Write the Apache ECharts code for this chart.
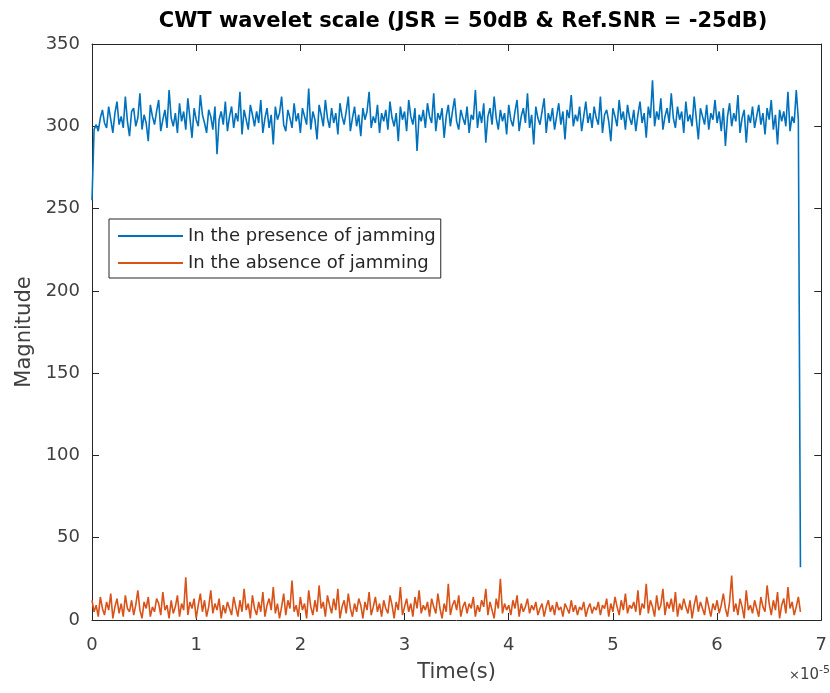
<!DOCTYPE html>
<html><head><meta charset="utf-8">
<script src="https://cdn.jsdelivr.net/npm/echarts@6/dist/echarts.min.js"></script>
<style>html,body{margin:0;padding:0;background:#fff}#c{width:830px;height:693px}</style>
</head><body><div id="c"></div>
<script>
// time grid: samples every 0.02 (units of 1e-5 s), starting at 0
const timeStep = 0.02;
const xTicks = [0,1,2,3,4,5,6,7];
const yTicks = [0,50,100,150,200,250,300,350];
const seriesNames = ['In the presence of jamming','In the absence of jamming'];
const jammed = [
255,298,301,297,305,310,302,299,312,304,296,308,315,301,306,299,318,303,294,309,
311,300,305,320,298,307,302,291,313,306,301,309,316,297,304,310,299,322,305,300,
308,296,314,303,309,298,317,305,293,311,304,300,319,307,302,296,310,306,298,312,
283,304,309,301,315,297,306,312,299,308,303,321,295,310,304,298,313,307,300,309,
302,316,296,305,311,299,307,289,312,304,308,318,301,297,310,305,299,314,303,308,
296,311,306,301,323,298,309,304,292,313,307,300,316,305,299,311,302,308,295,314,
306,301,309,318,297,305,312,300,307,294,311,304,309,321,299,306,302,313,296,308,
303,310,298,315,305,300,308,291,312,304,309,297,316,306,301,311,285,307,303,310,
299,314,306,302,320,297,308,304,311,293,306,313,300,309,317,303,298,310,305,301,
312,296,307,304,322,299,309,302,314,290,306,311,301,318,305,298,310,303,308,295,
313,304,300,309,316,297,306,311,302,320,299,307,289,312,305,301,309,317,296,308,
303,311,298,306,314,301,309,292,310,305,319,300,307,303,312,297,306,315,302,308,
299,312,305,301,318,296,307,310,303,291,311,306,300,316,304,309,298,313,305,301,
310,297,307,315,302,308,293,312,305,328,300,309,304,317,298,306,311,302,320,305,
299,312,304,309,296,315,303,307,300,318,305,292,311,306,301,313,298,308,304,316,
302,309,297,311,288,306,314,300,308,303,319,296,305,310,290,307,302,312,299,306,
313,301,308,295,311,304,316,298,307,289,310,303,309,300,321,297,306,302,322,304,
32];
const clean = [
12,5,9,2,14,7,3,11,6,16,1,8,13,4,10,2,15,7,5,12,
3,9,18,6,1,11,7,14,2,8,5,13,10,3,17,6,9,1,12,4,
8,15,2,10,6,26,3,11,7,13,1,9,16,5,12,2,8,18,4,10,
6,13,1,9,4,11,7,3,14,8,2,12,5,19,6,10,1,15,7,3,
11,5,17,2,9,13,6,20,4,10,1,8,16,3,12,7,24,5,9,2,
14,6,10,1,18,8,3,12,5,21,7,11,2,15,9,4,13,6,19,1,
8,12,4,16,7,2,10,5,13,9,1,11,6,17,3,8,14,5,10,2,
12,7,4,15,9,1,11,6,20,3,8,13,5,10,2,14,7,18,4,9,
6,11,2,13,8,4,16,7,1,10,5,22,3,9,12,6,15,2,8,11,
4,10,7,14,2,9,5,12,8,19,3,11,6,1,13,7,25,4,10,6,
9,3,12,7,15,2,10,5,8,13,4,9,6,11,3,7,10,2,8,12,
5,9,3,11,6,8,2,10,7,4,12,5,9,3,8,6,11,2,7,10,
4,8,6,11,3,9,7,13,2,10,5,14,8,3,12,6,16,4,9,7,
11,5,18,3,10,7,22,4,12,8,2,15,6,9,19,3,11,7,13,5,
17,2,10,6,13,8,4,12,1,9,15,5,11,7,3,14,8,2,10,6,
12,4,9,16,7,2,11,27,5,10,3,13,8,1,18,6,9,4,12,7,
2,14,8,5,21,10,3,12,6,17,1,9,13,4,20,7,11,3,8,14,
5];

const toXY = arr => arr.map((v,i)=>[+(i*timeStep).toFixed(4), v]);
const FONT = '"DejaVu Sans", Verdana, sans-serif';
const ax = '#262626';
const tc = '#404040';
const chart = echarts.init(document.getElementById('c'), null, {renderer:'canvas'});
chart.setOption({
  animation:false,
  backgroundColor:'#fff',
  title:{text:'CWT wavelet scale (JSR = 50dB & Ref.SNR = -25dB)', left:458, textAlign:'center', top:6,
    textStyle:{fontFamily:FONT, fontSize:21, fontWeight:'bold', color:'#000'}},
  grid:[{left:92, top:44, width:735, height:576, containLabel:false}],
  legend:{orient:'vertical', left:109, top:219,
    backgroundColor:'#fff', borderColor:'#262626', borderWidth:1,
    padding:[8,5,6,8], itemGap:9, itemWidth:65, itemHeight:18,
    itemStyle:{opacity:0},
    textStyle:{fontFamily:FONT, fontSize:18, color:'#262626'},
    data:seriesNames},
  xAxis:[
    {type:'value', min:xTicks[0], max:xTicks[xTicks.length-1], interval:1,
     axisLine:{show:true, onZero:false, lineStyle:{color:ax,width:1}},
     axisTick:{inside:true, length:7, lineStyle:{color:ax}},
     axisLabel:{fontFamily:FONT, fontSize:18, color:tc, margin:16},
     splitLine:{show:false},
     name:'Time(s)', nameLocation:'middle', nameGap:42,
     nameTextStyle:{fontFamily:FONT, fontSize:21, color:tc}},
    {type:'value', position:'top', min:0, max:7, interval:1,
     axisLine:{show:true, onZero:false, lineStyle:{color:ax,width:1}},
     axisTick:{inside:true, length:7, lineStyle:{color:ax}},
     axisLabel:{show:false}, splitLine:{show:false}}
  ],
  yAxis:[
    {type:'value', min:yTicks[0], max:yTicks[yTicks.length-1], interval:50,
     axisLine:{show:true, onZero:false, lineStyle:{color:ax,width:1}},
     axisTick:{inside:true, length:7, lineStyle:{color:ax}},
     axisLabel:{fontFamily:FONT, fontSize:18, color:tc, margin:12},
     splitLine:{show:false},
     name:'Magnitude', nameLocation:'middle', nameGap:56,
     nameTextStyle:{fontFamily:FONT, fontSize:21, color:tc}},
    {type:'value', position:'right', min:0, max:350, interval:50,
     axisLine:{show:true, onZero:false, lineStyle:{color:ax,width:1}},
     axisTick:{inside:true, length:7, lineStyle:{color:ax}},
     axisLabel:{show:false}, splitLine:{show:false}}
  ],
  series:[
    {name:seriesNames[0], type:'line', data:toXY(jammed), symbol:'none', color:'#0072BD',
     lineStyle:{width:1.6, color:'#0072BD'}},
    {name:seriesNames[1], type:'line', data:toXY(clean), symbol:'none', color:'#D95319',
     lineStyle:{width:1.6, color:'#D95319'}}
  ],
  graphic:[{type:'text', left:789, top:665,
    style:{text:'{a|×}{b|10}{c|-5}', rich:{
      a:{fontFamily:FONT, fontSize:13, fill:tc},
      b:{fontFamily:FONT, fontSize:15, fill:tc},
      c:{fontFamily:FONT, fontSize:11, fill:tc, verticalAlign:'top', padding:[0,0,10,0]}}}}]
});
</script></body></html>
